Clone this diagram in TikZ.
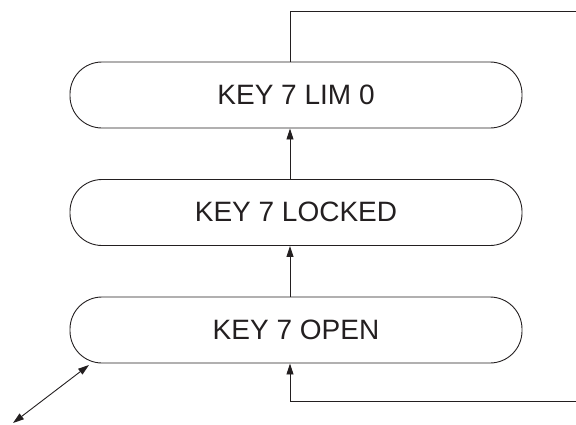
\documentclass[tikz,border=0pt]{standalone}
\usepackage{fontspec}
\setmainfont{Liberation Sans}
\usetikzlibrary{arrows.meta}
\begin{document}
\begin{tikzpicture}[x=1pt,y=-1pt,
  line width=0.9pt, draw={rgb,255:red,35;green,31;blue,32},
  box/.style={draw, rounded corners=32pt, minimum width=452pt, minimum height=66pt,
    inner sep=0pt, font=\fontsize{28}{32}\selectfont, text={rgb,255:red,35;green,31;blue,32}},
  arr/.style={-{Triangle[length=11pt,width=7pt]}},
  darr/.style={{Triangle[length=11pt,width=7pt]}-{Triangle[length=11pt,width=7pt]}}]
\useasboundingbox (0,0) rectangle (576,424);
\node[box] (b1) at (296,95) {\raisebox{1.5pt}{KEY 7 LIM 0}};
\node[box] (b2) at (296,212.5) {\raisebox{1.5pt}{KEY 7 LOCKED}};
\node[box] (b3) at (296,330) {\raisebox{1.5pt}{KEY 7 OPEN}};
\coordinate (ax) at (290,0);
\coordinate (tr) at (577,11);
\coordinate (br) at (577,401);
\coordinate (d1) at (13,423);
\coordinate (d2) at (89,365);
\draw[arr] (b2.north -| ax) -- (b1.south -| ax);
\draw[arr] (b3.north -| ax) -- (b2.south -| ax);
\draw (b1.north -| ax) |- (tr);
\draw[arr] (br) -| (b3.south -| ax);
\draw[darr] (d1) -- (d2);
\end{tikzpicture}
\end{document}
